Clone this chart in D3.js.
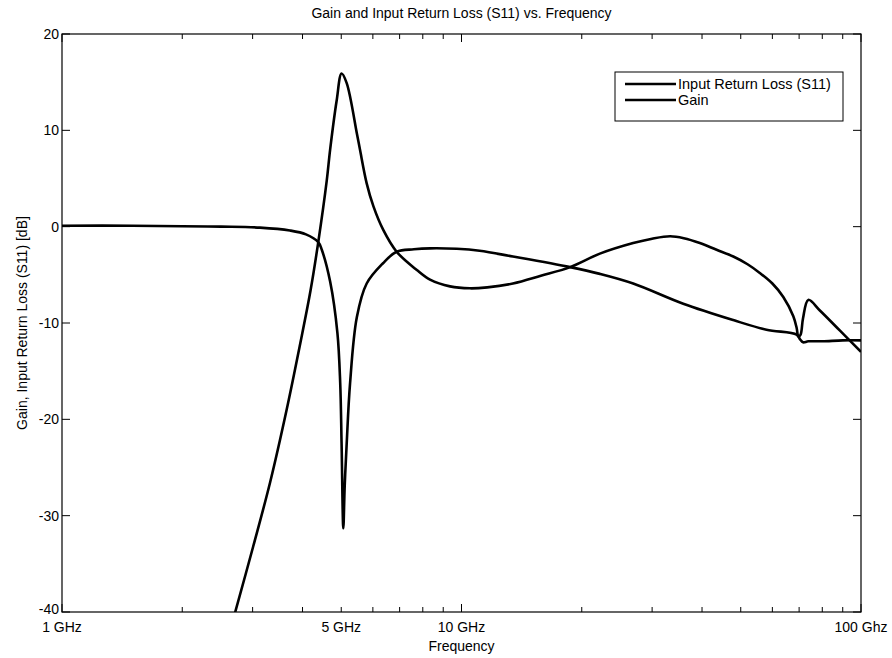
<!DOCTYPE html>
<html>
<head>
<meta charset="utf-8">
<script src="https://cdn.jsdelivr.net/npm/d3@7"></script>
<style>
  html, body { margin: 0; padding: 0; background: #fff; }
  svg { display: block; }
  text { font-family: "Liberation Sans", Arial, sans-serif; fill: #000; }
</style>
</head>
<body>
<svg id="chart" width="892" height="658"></svg>
<script>
// ---- Data (frequency in GHz, value in dB) ----
const gainFreq = [2.71, 3.01, 3.32, 3.65, 3.94, 4.19, 4.38, 4.60, 4.69, 4.87, 5.01, 5.16, 5.47, 5.57, 5.79, 6.02, 6.37, 6.88, 7.73, 8.34, 9.36, 10.5, 11.6, 13.45, 15.8, 18.7, 22.2, 26.9, 30.0, 33.3, 36.0, 39.5, 43.5, 47.9, 52.0, 55.8, 60.0, 63.9, 67.7, 69.0, 69.7, 70.6, 71.6, 73.8, 78.9, 88.6, 100];
const gainDb   = [-40.1, -33.2, -26.5, -19.0, -12.3, -6.6, -1.6, 4.8, 8.0, 13.1, 15.9, 14.9, 9.7, 8.0, 4.5, 2.1, -0.34, -2.6, -4.5, -5.5, -6.2, -6.4, -6.3, -5.9, -5.1, -4.2, -2.8, -1.7, -1.25, -1.0, -1.2, -1.7, -2.4, -3.1, -3.9, -4.8, -5.9, -7.3, -9.3, -10.5, -11.4, -11.2, -9.5, -7.6, -8.7, -10.8, -13.0];

const s11Freq = [1, 1.5, 2, 2.5, 3.13, 3.72, 4.08, 4.38, 4.47, 4.69, 4.89, 4.97, 5.01, 5.06, 5.10, 5.16, 5.26, 5.47, 5.79, 6.36, 6.88, 7.6, 8.34, 9.73, 11.1, 13.45, 18.7, 22.2, 26.9, 35.9, 47.9, 58.0, 69.0, 70.4, 71.6, 73.8, 80, 90, 100];
const s11Db   = [0.1, 0.1, 0.05, 0.0, -0.1, -0.4, -0.8, -1.6, -2.4, -5.7, -11.0, -16.2, -22.5, -31.3, -27.0, -22.5, -16.3, -9.4, -5.9, -3.8, -2.6, -2.35, -2.25, -2.3, -2.5, -3.1, -4.2, -4.9, -5.9, -8.0, -9.7, -10.7, -11.2, -11.7, -12.0, -11.9, -11.9, -11.8, -11.8];

const yTicks = [-40, -30, -20, -10, 0, 10, 20];
const xTickValues = [1, 5, 10, 100];
const xTickLabels = ["1 GHz", "5 GHz", "10 GHz", "100 Ghz"];
const seriesNames = ["Input Return Loss (S11)", "Gain"];

// ---- Layout ----
const svg = d3.select("#chart");
const L = 62, R = 861, T = 34, B = 612;

const x = d3.scaleLog().domain([1, 100]).range([L, R]);
const y = d3.scaleLinear().domain([-40, 20]).range([B, T]);

// minor ticks for log axis
const minorX = [];
for (const dec of [1, 10]) for (let m = 1; m <= 9; m++) minorX.push(dec * m);
minorX.push(100);

svg.append("defs").append("clipPath").attr("id", "clip")
  .append("rect").attr("x", L).attr("y", T).attr("width", R - L).attr("height", B - T);

// Axes box
const axG = svg.append("g");
axG.append("rect").attr("x", L).attr("y", T).attr("width", R - L).attr("height", B - T)
  .attr("fill", "none").attr("stroke", "#000").attr("stroke-width", 1.2);

// X ticks (inward, bottom and top)
minorX.forEach(v => {
  const major = (v === 1 || v === 10 || v === 100);
  const len = major ? 8 : 5;
  axG.append("line").attr("x1", x(v)).attr("x2", x(v)).attr("y1", B).attr("y2", B - len)
    .attr("stroke", "#000").attr("stroke-width", 1);
  axG.append("line").attr("x1", x(v)).attr("x2", x(v)).attr("y1", T).attr("y2", T + len)
    .attr("stroke", "#000").attr("stroke-width", 1);
});
// Y ticks (inward, left and right)
yTicks.forEach(v => {
  axG.append("line").attr("x1", L).attr("x2", L + 8).attr("y1", y(v)).attr("y2", y(v))
    .attr("stroke", "#000").attr("stroke-width", 1);
  axG.append("line").attr("x1", R).attr("x2", R - 8).attr("y1", y(v)).attr("y2", y(v))
    .attr("stroke", "#000").attr("stroke-width", 1);
  axG.append("text").attr("x", L - 3).attr("y", y(v)).attr("dy", v === -40 ? "0.15em" : "0.35em")
    .attr("text-anchor", "end").attr("font-size", 14).text(v);
});
// X tick labels
xTickValues.forEach((v, i) => {
  axG.append("text").attr("x", x(v)).attr("y", B + 20)
    .attr("text-anchor", "middle").attr("font-size", 14).text(xTickLabels[i]);
});

// Titles
svg.append("text").attr("x", (L + R) / 2).attr("y", 18).attr("text-anchor", "middle")
  .attr("font-size", 14).text("Gain and Input Return Loss (S11) vs. Frequency");
svg.append("text").attr("x", (L + R) / 2).attr("y", 651).attr("text-anchor", "middle")
  .attr("font-size", 14).text("Frequency");
svg.append("text").attr("transform", `translate(27,${(T + B) / 2}) rotate(-90)`)
  .attr("text-anchor", "middle").attr("font-size", 14)
  .text("Gain, Input Return Loss (S11) [dB]");

// Lines
const line = d3.line().x(d => x(d[0])).y(d => y(d[1])).curve(d3.curveCatmullRom.alpha(0.5));
const plotG = svg.append("g").attr("clip-path", "url(#clip)");
plotG.append("path").datum(s11Freq.map((f, i) => [f, s11Db[i]]))
  .attr("d", line).attr("fill", "none").attr("stroke", "#000").attr("stroke-width", 2.6)
  .attr("stroke-linejoin", "round");
plotG.append("path").datum(gainFreq.map((f, i) => [f, gainDb[i]]))
  .attr("d", line).attr("fill", "none").attr("stroke", "#000").attr("stroke-width", 2.6)
  .attr("stroke-linejoin", "round");

// Legend
const lg = svg.append("g");
lg.append("rect").attr("x", 615).attr("y", 72).attr("width", 228).attr("height", 49)
  .attr("fill", "#fff").attr("stroke", "#000").attr("stroke-width", 1);
seriesNames.forEach((name, i) => {
  const yy = 84 + i * 16;
  lg.append("line").attr("x1", 625).attr("x2", 676).attr("y1", yy).attr("y2", yy)
    .attr("stroke", "#000").attr("stroke-width", 2.4);
  lg.append("text").attr("x", 678).attr("y", yy).attr("dy", "0.35em")
    .attr("font-size", 14.5).text(name);
});
</script>
</body>
</html>
